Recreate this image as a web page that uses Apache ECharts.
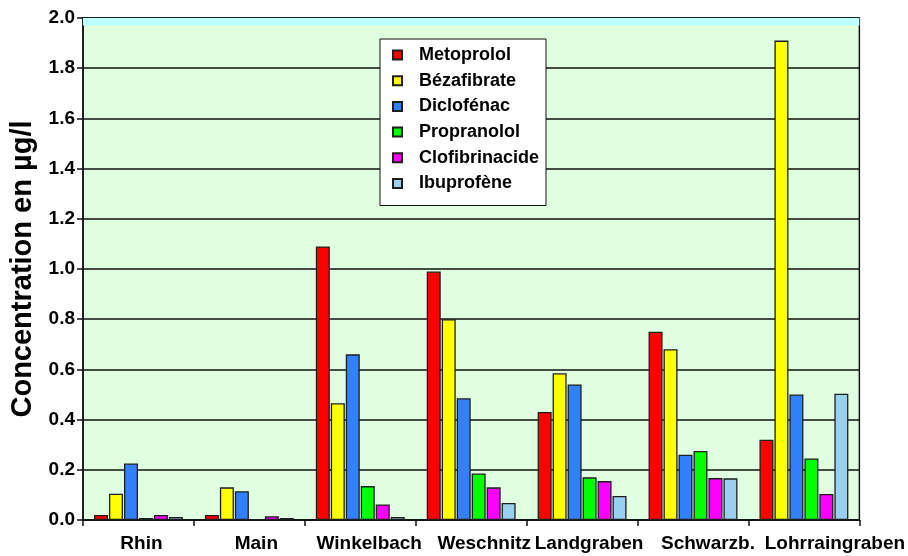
<!DOCTYPE html>
<html>
<head>
<meta charset="utf-8">
<script src="https://cdn.jsdelivr.net/npm/echarts@6/dist/echarts.min.js"></script>
<style>
  html, body { margin: 0; padding: 0; background: #ffffff; }
  #chart { width: 908px; height: 556px; }
</style>
</head>
<body>
<div id="chart"></div>
<script>
// Sampling sites along the river network
const categories = ['Rhin', 'Main', 'Winkelbach', 'Weschnitz', 'Landgraben', 'Schwarzb.', 'Lohrraingraben'];

// Measured concentrations (µg/l) per substance
const metoprolol     = [0.020, 0.020, 1.090, 0.990, 0.430, 0.750, 0.320];
const bezafibrate    = [0.105, 0.130, 0.465, 0.800, 0.585, 0.680, 1.910];
const diclofenac     = [0.225, 0.115, 0.660, 0.485, 0.540, 0.260, 0.500];
const propranolol    = [0.008, 0.003, 0.135, 0.185, 0.170, 0.275, 0.245];
const clofibrinacide = [0.020, 0.015, 0.062, 0.130, 0.155, 0.167, 0.104];
const ibuprofene     = [0.012, 0.008, 0.012, 0.068, 0.096, 0.166, 0.503];

// Y axis ticks
const yTicks = [0.0, 0.2, 0.4, 0.6, 0.8, 1.0, 1.2, 1.4, 1.6, 1.8, 2.0];

const FONT = "'Liberation Sans', Arial, sans-serif";

const seriesDefs = [
  { name: 'Metoprolol',     data: metoprolol,     color: '#FF0000' },
  { name: 'Bézafibrate',    data: bezafibrate,    color: '#FFFF00' },
  { name: 'Diclofénac',     data: diclofenac,     color: '#3380FF' },
  { name: 'Propranolol',    data: propranolol,    color: '#00FF00' },
  { name: 'Clofibrinacide', data: clofibrinacide, color: '#FF00FF' },
  { name: 'Ibuprofène',     data: ibuprofene,     color: '#99D0EE' }
];

// horizontal nudge for each category label (px)
const labelNudge = [3, 7, 9, 13, 7, 15, 31];

const series = seriesDefs.map((s, i) => {
  const item = {
    name: s.name,
    type: 'bar',
    data: s.data,
    barWidth: 14,
    barGap: '7%',
    itemStyle: { color: s.color, borderColor: '#1e1e1e', borderWidth: 1.3 },
    emphasis: { disabled: true },
    animation: false
  };
  if (i === 0) {
    // pale cyan band along the top edge of the plot
    item.markArea = {
      silent: true,
      itemStyle: { color: '#C0FFFF' },
      data: [[{ yAxis: 1.97 }, { yAxis: 2.0 }]]
    };
  }
  return item;
});

const chart = echarts.init(document.getElementById('chart'), null, { renderer: 'canvas' });

chart.setOption({
  backgroundColor: '#ffffff',
  animation: false,
  textStyle: { fontFamily: FONT, fontWeight: 'bold', color: '#000' },
  grid: {
    left: 82, right: 48, top: 18, bottom: 36,
    show: true,
    backgroundColor: '#E0FFE0',
    borderColor: '#111',
    borderWidth: 1.5
  },
  legend: {
    orient: 'vertical',
    left: 380, top: 39,
    padding: [7, 7, 13, 12],
    backgroundColor: '#ffffff',
    borderColor: '#111',
    borderWidth: 1,
    itemWidth: 9,
    itemHeight: 9,
    itemGap: 7.7,
    icon: 'rect',
    selectedMode: false,
    textStyle: {
      fontFamily: FONT, fontWeight: 'bold', fontSize: 18, lineHeight: 18,
      color: '#000', padding: [0, 0, 0, 12]
    },
    data: seriesDefs.map(s => s.name)
  },
  xAxis: {
    type: 'category',
    data: categories.map((c, i) => ({
      value: c,
      textStyle: { padding: [0, 0, 0, labelNudge[i] * 2] }
    })),
    axisLine: { lineStyle: { color: '#111', width: 1.5 } },
    axisTick: { show: true, alignWithLabel: false, length: 6, lineStyle: { color: '#111', width: 1.5 } },
    axisLabel: {
      interval: 0, margin: 14,
      fontFamily: FONT, fontWeight: 'bold', fontSize: 19, color: '#000'
    },
    splitLine: { show: false }
  },
  yAxis: {
    type: 'value',
    min: yTicks[0],
    max: yTicks[yTicks.length - 1],
    interval: 0.2,
    name: 'Concentration en µg/l',
    nameLocation: 'middle',
    nameRotate: 90,
    nameGap: 46,
    nameTextStyle: { fontFamily: FONT, fontWeight: 'bold', fontSize: 29, color: '#000' },
    axisLine: { show: true, lineStyle: { color: '#111', width: 1.5 } },
    axisTick: { show: true, length: 6, lineStyle: { color: '#111', width: 1.5 } },
    axisLabel: {
      margin: 8,
      fontFamily: FONT, fontWeight: 'bold', fontSize: 19, color: '#000',
      formatter: v => v.toFixed(1)
    },
    splitLine: { show: true, lineStyle: { color: '#111', width: 1.5 } }
  },
  series: series
});
</script>
</body>
</html>
